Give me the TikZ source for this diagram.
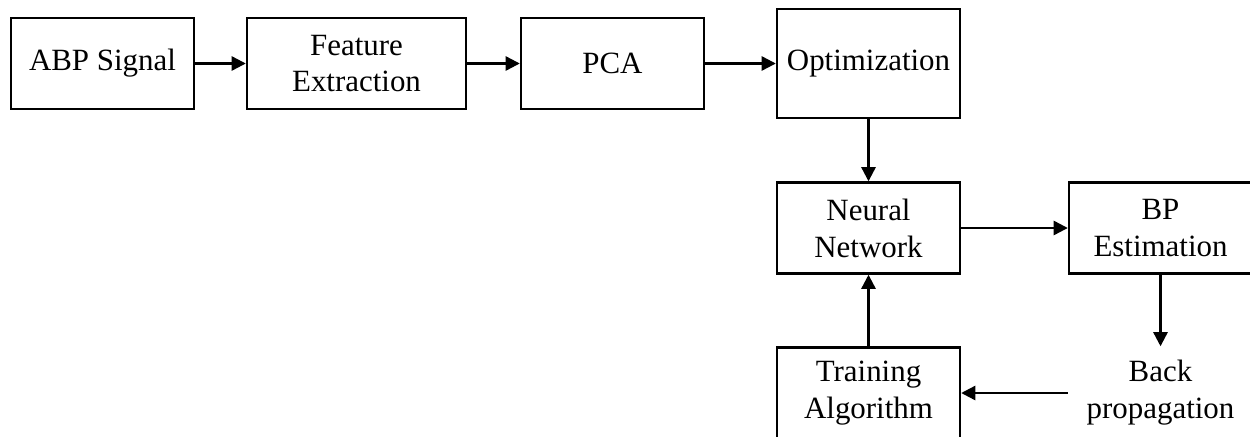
\documentclass[tikz,border=0pt]{standalone}
\usepackage{fontspec}
\setmainfont{Liberation Serif}
\usetikzlibrary{arrows.meta}

\tikzset{
  blk/.style={draw, line width=1.4pt, minimum width=3.66cm, minimum height=1.82cm,
    align=center, font=\fontsize{17.6}{21}\selectfont},
  txt/.style={blk, draw=none},
  flow/.style={-{Triangle[length=8pt,width=8pt]}, line width=1.3pt}
}

\begin{document}
\begin{tikzpicture}[x=0.02cm,y=-0.02cm]
\useasboundingbox (0,0) rectangle (1250,436);
\clip (0,0) rectangle (1250,436);
\path
(102.5,63.5) node[blk] (abp) {ABP Signal}
(356.5,63.5) node[blk, minimum width=4.38cm] (feat) {Feature\\Extraction}
(612.5,63.5) node[blk] (pca) {PCA}
(868.5,63.5) node[blk, minimum height=2.18cm] (opt) {Optimization}
(868.5,228) node[blk] (nn) {Neural\\Network}
(1160.5,228) node[blk] (bpe) {BP\\Estimation}
(1160.5,393) node[txt] (back) {Back\\propagation}
(868.5,393) node[blk] (train) {Training\\Algorithm};
%\draw[flow] (abp.east) -- (feat.west);
\draw[flow] (abp)--(feat);
\draw[flow] (feat)--(pca);
\draw[flow] (pca)--(opt);
\draw[flow] (opt)--(nn);
\draw[flow] (nn)--(bpe);
\draw[flow] (bpe)--(back);
\draw[flow] (back)--(train);
\draw[flow] (train)--(nn);
\end{tikzpicture}
\end{document}
